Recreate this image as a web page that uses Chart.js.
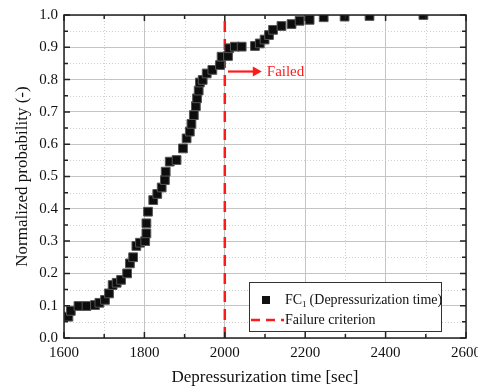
<!DOCTYPE html>
<html>
<head>
<meta charset="utf-8">
<script src="https://cdn.jsdelivr.net/npm/chart.js@4"></script>
<style>
  html, body { margin: 0; padding: 0; background: #fff; }
  #wrap { width: 478px; height: 387px; }
</style>
</head>
<body>
<div id="wrap"><canvas id="c" width="478" height="387"></canvas></div>
<script>
// 数据
const depTime = [1611, 1617, 1636, 1656, 1677, 1688, 1702, 1712, 1721, 1731, 1742, 1757, 1764, 1772,
  1780, 1789, 1802, 1805, 1805, 1809, 1822, 1832, 1843, 1851, 1853, 1863, 1880, 1896, 1905, 1913,
  1917, 1923, 1928, 1931, 1935, 1938, 1945, 1955, 1969, 1988, 1992, 2008, 2011, 2025, 2042, 2075,
  2087, 2099, 2110, 2120, 2141, 2166, 2186, 2211, 2246, 2298, 2360, 2494];
const probability = [0.066, 0.084, 0.099, 0.099, 0.102, 0.109, 0.118, 0.138, 0.164, 0.171, 0.180, 0.200, 0.231, 0.250,
  0.285, 0.295, 0.300, 0.324, 0.355, 0.391, 0.427, 0.446, 0.466, 0.489, 0.515, 0.546, 0.551, 0.587, 0.618, 0.639,
  0.663, 0.690, 0.718, 0.742, 0.766, 0.791, 0.799, 0.819, 0.830, 0.845, 0.871, 0.873, 0.897, 0.902, 0.902, 0.904,
  0.912, 0.924, 0.938, 0.954, 0.966, 0.972, 0.982, 0.985, 0.993, 0.995, 0.997, 1.0];
const criterionTime = [2000, 2000];
const criterionProb = [0, 1];
const xTicks = [1600, 1800, 2000, 2200, 2400, 2600];
const yTicks = [0, 0.1, 0.2, 0.3, 0.4, 0.5, 0.6, 0.7, 0.8, 0.9, 1.0];
const failedArrow = { from: 2008, to: 2092, y: 0.825, label: 'Failed' };

const SERIF = '"Liberation Serif", "Times New Roman", serif';
const RED = '#ff1a1a';

// 次网格 + 边框 + 刻度线 + 注释 + 图例
const framePlugin = {
  id: 'frame',
  beforeDatasetsDraw(chart) {
    const { ctx, chartArea: a, scales: { x, y } } = chart;
    ctx.save();
    ctx.strokeStyle = '#cfcfcf';
    ctx.lineWidth = 1;
    ctx.setLineDash([1, 2]);
    for (let v = 1700; v < 2600; v += 200) {
      const px = Math.round(x.getPixelForValue(v)) + 0.5;
      ctx.beginPath(); ctx.moveTo(px, a.top); ctx.lineTo(px, a.bottom); ctx.stroke();
    }
    for (let v = 0.05; v < 1; v += 0.1) {
      const py = Math.round(y.getPixelForValue(v)) + 0.5;
      ctx.beginPath(); ctx.moveTo(a.left, py); ctx.lineTo(a.right, py); ctx.stroke();
    }
    ctx.restore();
  },
  afterDraw(chart) {
    const { ctx, chartArea: a, scales: { x, y } } = chart;
    ctx.save();
    ctx.strokeStyle = '#222';
    ctx.lineWidth = 1.5;
    ctx.strokeRect(a.left, a.top, a.right - a.left, a.bottom - a.top);
    for (let v = 1600; v <= 2600; v += 100) {
      const px = x.getPixelForValue(v);
      const len = v % 200 === 0 ? 6 : 4;
      ctx.beginPath();
      ctx.moveTo(px, a.bottom); ctx.lineTo(px, a.bottom - len);
      ctx.moveTo(px, a.top); ctx.lineTo(px, a.top + len);
      ctx.stroke();
    }
    for (let i = 0; i <= 20; i++) {
      const py = y.getPixelForValue(i * 0.05);
      const len = i % 2 === 0 ? 6 : 4;
      ctx.beginPath();
      ctx.moveTo(a.left, py); ctx.lineTo(a.left + len, py);
      ctx.moveTo(a.right, py); ctx.lineTo(a.right - len, py);
      ctx.stroke();
    }

    // Failed 箭头
    const ay = y.getPixelForValue(failedArrow.y);
    const x0 = x.getPixelForValue(failedArrow.from);
    const x1 = x.getPixelForValue(failedArrow.to);
    ctx.strokeStyle = RED;
    ctx.fillStyle = RED;
    ctx.lineWidth = 2.2;
    ctx.beginPath(); ctx.moveTo(x0, ay); ctx.lineTo(x1 - 6, ay); ctx.stroke();
    ctx.beginPath(); ctx.moveTo(x1, ay); ctx.lineTo(x1 - 9, ay - 5); ctx.lineTo(x1 - 9, ay + 5); ctx.closePath(); ctx.fill();
    ctx.font = '15px ' + SERIF;
    ctx.textBaseline = 'middle';
    ctx.fillText(failedArrow.label, x1 + 5, ay + 1);

    // 图例
    const lx = 249, ly = 282, lw = 192, lh = 49;
    ctx.fillStyle = '#fff';
    ctx.fillRect(lx, ly, lw, lh);
    ctx.strokeStyle = '#333';
    ctx.lineWidth = 1;
    ctx.strokeRect(lx + 0.5, ly + 0.5, lw, lh);
    ctx.fillStyle = '#111';
    ctx.fillRect(262, 296, 8, 8);
    ctx.font = '14px ' + SERIF;
    ctx.textBaseline = 'middle';
    ctx.fillText('FC', 285, 300);
    const fcw = ctx.measureText('FC').width;
    ctx.font = '9px ' + SERIF;
    ctx.fillText('1', 285 + fcw, 305);
    ctx.font = '14px ' + SERIF;
    ctx.fillText(' (Depressurization time)', 285 + fcw + 4, 300);
    ctx.strokeStyle = RED;
    ctx.lineWidth = 2.5;
    ctx.setLineDash([9, 6]);
    ctx.beginPath(); ctx.moveTo(251, 320); ctx.lineTo(284, 320); ctx.stroke();
    ctx.setLineDash([]);
    ctx.fillText('Failure criterion', 285, 320);
    ctx.restore();
  }
};

const scatterData = depTime.map((t, i) => ({ x: t, y: probability[i] }));
const criterionData = criterionTime.map((t, i) => ({ x: t, y: criterionProb[i] }));

new Chart(document.getElementById('c'), {
  type: 'scatter',
  data: {
    datasets: [
      {
        label: 'FC1 (Depressurization time)',
        data: scatterData,
        pointStyle: 'rect',
        pointRadius: 6.2,
        backgroundColor: '#0d0d0d',
        borderColor: '#555',
        borderWidth: 1
      },
      {
        label: 'Failure criterion',
        data: criterionData,
        showLine: true,
        pointRadius: 0,
        borderColor: RED,
        borderWidth: 2.5,
        borderDash: [11, 7]
      }
    ]
  },
  options: {
    responsive: false,
    animation: false,
    layout: { padding: { top: 15, right: 0, left: 0, bottom: 0 } },
    plugins: { legend: { display: false }, tooltip: { enabled: false } },
    scales: {
      x: {
        type: 'linear',
        min: 1600, max: 2600,
        afterBuildTicks: s => { s.ticks = xTicks.map(v => ({ value: v })); },
        afterFit: s => { s.height = 49; s.paddingRight = 12; s.paddingLeft = 0; },
        grid: { color: '#c4c4c4', lineWidth: 1, drawTicks: false },
        border: { display: false },
        ticks: { color: '#111', padding: 6, font: { family: SERIF, size: 15 }, maxRotation: 0, callback: v => String(v) },
        title: { display: true, text: 'Depressurization time [sec]', color: '#111', padding: { top: 10, bottom: -1 }, font: { family: SERIF, size: 17 } }
      },
      y: {
        type: 'linear',
        min: 0, max: 1,
        afterBuildTicks: s => { s.ticks = yTicks.map(v => ({ value: v })); },
        afterFit: s => { s.width = 64; },
        grid: { color: '#c4c4c4', lineWidth: 1, drawTicks: false },
        border: { display: false },
        ticks: { color: '#111', padding: 6, font: { family: SERIF, size: 15 }, callback: v => v.toFixed(1) },
        title: { display: true, text: 'Normalized probability (-)', color: '#111', padding: { top: 12, bottom: 0 }, font: { family: SERIF, size: 17 } }
      }
    }
  },
  plugins: [framePlugin]
});
</script>
</body>
</html>
